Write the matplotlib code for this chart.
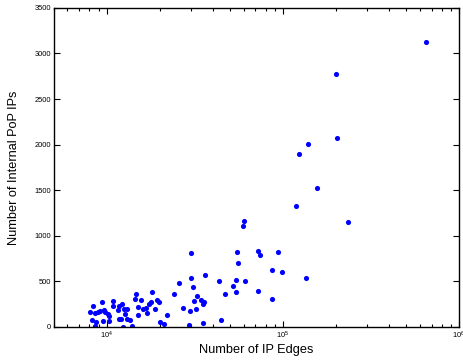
import matplotlib
matplotlib.use("Agg")
import matplotlib.pyplot as plt
from matplotlib.ticker import LogLocator, FixedLocator

plt.rcParams['font.family'] = ['Liberation Sans', 'DejaVu Sans']
plt.rcParams['mathtext.fontset'] = 'custom'
plt.rcParams['mathtext.rm'] = 'Liberation Sans'
plt.rcParams['mathtext.it'] = 'Liberation Sans'

ip_edges = [652000, 201000, 203000, 139000, 123000, 119000, 60300, 59500, 156500, 234500,
            134700, 55100, 72700, 74300, 94000, 55600, 87300, 99100, 54100, 61400,
            51900, 54400, 72700, 87300, 30300, 36400, 30200, 25700, 43300, 31000,
            46700, 32700, 31400, 34200, 35500, 35100, 27200, 29800, 32300, 44700,
            35300, 29200, 24000, 21900, 20000, 21100, 19300, 19900, 18900, 18200,
            14600, 14450, 15000, 15700, 16200, 16700, 16900, 17300, 17850, 15100,
            11800, 12200, 10840, 10900, 12600, 13050, 11600, 12650, 11700, 12070,
            13100, 13570, 8380, 9420, 8080, 8630, 8890, 9210, 9620, 9790,
            10180, 10360, 8220, 8740, 9540, 10360, 8600, 12320, 13930]
internal_ips = [3130, 2780, 2070, 2005, 1895, 1320, 1160, 1105, 1520, 1150,
                530, 820, 834, 784, 823, 700, 620, 597, 510, 505,
                447, 381, 392, 304, 809, 571, 538, 480, 505, 436,
                362, 334, 282, 293, 271, 246, 200, 176, 189, 76,
                44, 19, 354, 126, 52, 30, 293, 271, 191, 381,
                362, 306, 220, 290, 194, 209, 147, 249, 268, 125,
                222, 246, 227, 282, 194, 194, 183, 136, 85, 88,
                88, 74, 231, 271, 158, 154, 165, 176, 183, 161,
                136, 117, 70, 48, 59, 59, 11, 2, 4]

y_ticks = [0, 500, 1000, 1500, 2000, 2500, 3000, 3500]

fig = plt.figure(figsize=(4.63, 3.62), dpi=100)
ax = fig.add_axes([0.1156, 0.0975, 0.8758, 0.8805])
ax.plot(ip_edges, internal_ips, linestyle='none', marker='o', markersize=3.7,
        color='#0000ff', markeredgewidth=0)
ax.set_xscale('log')
ax.set_xlim(5000, 1e6)
ax.set_ylim(0, 3500)
ax.yaxis.set_major_locator(FixedLocator(y_ticks))
ax.xaxis.set_major_locator(LogLocator(base=10, numticks=10))
ax.xaxis.set_minor_locator(LogLocator(base=10, subs=range(2, 10), numticks=20))
ax.tick_params(which='both', direction='in', top=True, right=True, labelsize=5.4,
               width=0.8, pad=2)
ax.tick_params(which='major', length=4)
ax.tick_params(which='minor', length=2)
for s in ax.spines.values():
    s.set_linewidth(1.0)
ax.set_xlabel('Number of IP Edges', fontsize=9.2, labelpad=2)
ax.set_ylabel('Number of Internal PoP IPs', fontsize=9.2, labelpad=10)
fig.savefig('out.png', dpi=100)
